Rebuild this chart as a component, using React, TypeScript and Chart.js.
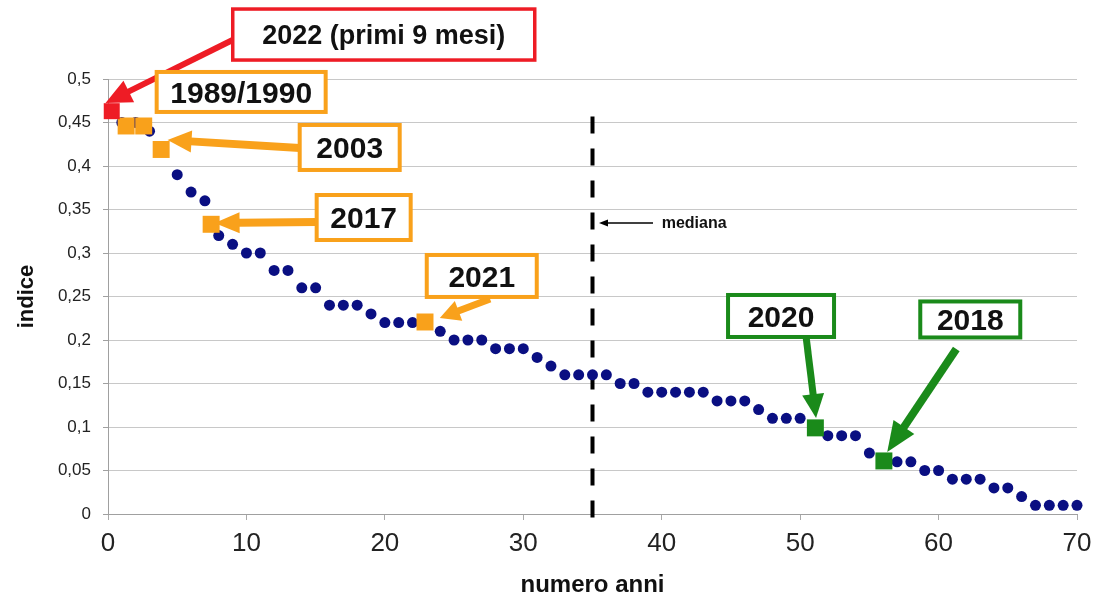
import React, { useEffect, useRef } from 'react';
import { Chart, registerables } from 'chart.js';

Chart.register(...registerables);

// ---- data ----
const anni = [
  1, 2, 3, 4, 5, 6, 7, 8, 9, 10, 11, 12, 13, 14, 15, 16, 17, 18, 19, 20,
  21, 22, 23, 24, 25, 26, 27, 28, 29, 30, 31, 32, 33, 34, 35, 36, 37, 38, 39, 40,
  41, 42, 43, 44, 45, 46, 47, 48, 49, 50, 51, 52, 53, 54, 55, 56, 57, 58, 59, 60,
  61, 62, 63, 64, 65, 66, 67, 68, 69, 70,
];
const indice = [
  0.45, 0.45, 0.44, 0.42, 0.39, 0.37, 0.36, 0.32, 0.31, 0.3,
  0.3, 0.28, 0.28, 0.26, 0.26, 0.24, 0.24, 0.24, 0.23, 0.22,
  0.22, 0.22, 0.22, 0.21, 0.2, 0.2, 0.2, 0.19, 0.19, 0.19,
  0.18, 0.17, 0.16, 0.16, 0.16, 0.16, 0.15, 0.15, 0.14, 0.14,
  0.14, 0.14, 0.14, 0.13, 0.13, 0.13, 0.12, 0.11, 0.11, 0.11,
  0.1, 0.09, 0.09, 0.09, 0.07, 0.06, 0.06, 0.06, 0.05, 0.05,
  0.04, 0.04, 0.04, 0.03, 0.03, 0.02, 0.01, 0.01, 0.01, 0.01,
];
// highlighted years (squares)
const rossoX = [0.27];
const rossoY = [0.463];
const aranX = [1.31, 2.58, 3.84, 7.45, 22.9];
const aranY = [0.446, 0.446, 0.419, 0.333, 0.2207];
const verdeX = [51.1, 56.05];
const verdeY = [0.099, 0.061];
// median line
const medianaX = [35, 35];
const medianaY = [-0.004, 0.458];

const xTickLabels = ['0', '10', '20', '30', '40', '50', '60', '70'];
const yTickLabels = ['0', '0,05', '0,1', '0,15', '0,2', '0,25', '0,3', '0,35', '0,4', '0,45', '0,5'];

const etichette = ['2022 (primi 9 mesi)', '1989/1990', '2003', '2017', '2021', '2020', '2018'];

// ---- styles ----
const RED = '#ee1c25';
const ORANGE = '#f9a11b';
const GREEN = '#1a8a1a';
const NAVY = '#0a0f82';
const FONT = "'Liberation Sans', Arial, Helvetica, sans-serif";

// annotation layout (box centre / arrow tail & tip in data units, sizes in px)
const ANNOT = [
  { color: RED, cx: 19.92, cy: 0.5511, w: 302, h: 51, fs: 27, bw: 3.5, tail: [9.0, 0.5448], tip: [-0.18, 0.4724], shaft: 6, hl: 26, hw: 24 },
  { color: ORANGE, cx: 9.62, cy: 0.4851, w: 169, h: 40, fs: 30, bw: 4, tail: null, tip: null, shaft: 0, hl: 0, hw: 0 },
  { color: ORANGE, cx: 17.46, cy: 0.4213, w: 100, h: 45, fs: 30, bw: 4, tail: [13.85, 0.4207], tip: [4.3, 0.4299], shaft: 8, hl: 24, hw: 22 },
  { color: ORANGE, cx: 18.47, cy: 0.3408, w: 94, h: 45, fs: 30, bw: 4, tail: [15.08, 0.3356], tip: [7.7, 0.3345], shaft: 8, hl: 25, hw: 21 },
  { color: ORANGE, cx: 27.0, cy: 0.2736, w: 110, h: 42, fs: 30, bw: 4, tail: [27.6, 0.2471], tip: [23.97, 0.2253], shaft: 7, hl: 20, hw: 21 },
  { color: GREEN, cx: 48.62, cy: 0.2276, w: 106, h: 42, fs: 30, bw: 4, tail: [50.43, 0.2034], tip: [51.15, 0.1103], shaft: 7, hl: 24, hw: 22 },
  { color: GREEN, cx: 62.29, cy: 0.2236, w: 100, h: 36, fs: 30, bw: 4, tail: [61.28, 0.1897], tip: [56.29, 0.0713], shaft: 8, hl: 30, hw: 25 },
];
const MEDIANA_ARROW = { tail: [39.37, 0.3345], tip: [35.47, 0.3345], textX: 40.0 };

function drawArrow(ctx: CanvasRenderingContext2D, x1: number, y1: number, x2: number, y2: number,
  shaft: number, hl: number, hw: number, color: string) {
  const dx = x2 - x1, dy = y2 - y1;
  const len = Math.hypot(dx, dy);
  const ux = dx / len, uy = dy / len;
  const bx = x2 - ux * hl, by = y2 - uy * hl;
  ctx.save();
  ctx.strokeStyle = color;
  ctx.fillStyle = color;
  ctx.lineWidth = shaft;
  ctx.lineCap = 'butt';
  ctx.beginPath();
  ctx.moveTo(x1, y1);
  ctx.lineTo(bx + ux * 1, by + uy * 1);
  ctx.stroke();
  ctx.beginPath();
  ctx.moveTo(x2, y2);
  ctx.lineTo(bx - uy * hw / 2, by + ux * hw / 2);
  ctx.lineTo(bx + uy * hw / 2, by - ux * hw / 2);
  ctx.closePath();
  ctx.fill();
  ctx.restore();
}

const annotationPlugin = {
  id: 'annotazioni',
  afterDatasetsDraw(chart: any) {
    const { ctx } = chart;
    const xs = chart.scales.x, ys = chart.scales.y;
    const px = (v: number) => xs.getPixelForValue(v);
    const py = (v: number) => ys.getPixelForValue(v);
    ctx.save();
    // mediana
    const m = MEDIANA_ARROW;
    drawArrow(ctx, px(m.tail[0]), py(m.tail[1]), px(m.tip[0]), py(m.tip[1]), 1.3, 9, 7, '#000');
    ctx.fillStyle = '#111';
    ctx.font = `bold 16px ${FONT}`;
    ctx.textAlign = 'left';
    ctx.textBaseline = 'middle';
    ctx.fillText('mediana', px(m.textX), py(m.tail[1]) + 1);

    ANNOT.forEach((a) => {
      if (a.tail && a.tip) {
        drawArrow(ctx, px(a.tail[0]), py(a.tail[1]), px(a.tip[0]), py(a.tip[1]), a.shaft, a.hl, a.hw, a.color);
      }
    });
    ANNOT.forEach((a, i) => {
      const cx = px(a.cx), cy = py(a.cy);
      const l = cx - a.w / 2, t = cy - a.h / 2;
      ctx.fillStyle = '#fff';
      ctx.fillRect(l, t, a.w, a.h);
      ctx.strokeStyle = a.color;
      ctx.lineWidth = a.bw;
      ctx.strokeRect(l, t, a.w, a.h);
      ctx.fillStyle = '#111';
      ctx.font = `bold ${a.fs}px ${FONT}`;
      ctx.textAlign = 'center';
      ctx.textBaseline = 'alphabetic';
      ctx.fillText(etichette[i], cx, cy + a.fs * 0.716 / 2);
    });
    ctx.restore();
  },
};

export default function App() {
  const ref = useRef<HTMLCanvasElement | null>(null);
  useEffect(() => {
    if (!ref.current) return;
    const chart = new Chart(ref.current, {
      type: 'scatter',
      data: {
        datasets: [
          {
            label: '2022',
            data: rossoX.map((x, i) => ({ x, y: rossoY[i] })),
            pointStyle: 'rect',
            pointRadius: 11.3,
            backgroundColor: RED,
            borderWidth: 0,
            clip: false,
          } as any,
          {
            label: 'arancio',
            data: aranX.map((x, i) => ({ x, y: aranY[i] })),
            pointStyle: 'rect',
            pointRadius: 12,
            backgroundColor: ORANGE,
            borderWidth: 0,
            clip: false,
          } as any,
          {
            label: 'verde',
            data: verdeX.map((x, i) => ({ x, y: verdeY[i] })),
            pointStyle: 'rect',
            pointRadius: 12,
            backgroundColor: GREEN,
            borderWidth: 0,
            clip: false,
          } as any,
          {
            label: 'indice',
            data: anni.map((x, i) => ({ x, y: indice[i] })),
            pointRadius: 5.5,
            backgroundColor: NAVY,
            borderWidth: 0,
            clip: false,
          } as any,
          {
            label: 'mediana',
            data: medianaX.map((x, i) => ({ x, y: medianaY[i] })),
            showLine: true,
            pointRadius: 0,
            borderColor: '#000',
            borderWidth: 4,
            borderDash: [17, 15],
            clip: false,
          } as any,
        ],
      },
      options: {
        animation: false,
        responsive: false,
        events: [],
        layout: { padding: { left: 0, right: 17, top: 79, bottom: 0 } },
        plugins: { legend: { display: false }, tooltip: { enabled: false } },
        scales: {
          x: {
            type: 'linear',
            min: 0,
            max: 70,
            afterFit: (s: any) => { s.height = 89; s.paddingRight = 0; s.paddingLeft = 0; },
            ticks: {
              stepSize: 10,
              color: '#222',
              padding: 8,
              font: { family: FONT, size: 26 },
              callback: (v: any) => xTickLabels[Math.round(Number(v) / 10)] ?? String(v),
            },
            grid: { drawOnChartArea: false, drawTicks: true, tickLength: 6, color: '#aaa' },
            border: { display: true, color: '#a0a0a0', width: 1 },
            title: {
              display: true,
              text: 'numero anni',
              color: '#111',
              font: { family: FONT, size: 24, weight: 'bold' },
              padding: { top: 0, bottom: 3 },
            },
          },
          y: {
            type: 'linear',
            min: 0,
            max: 0.5,
            afterFit: (s: any) => { s.width = 108; },
            ticks: {
              stepSize: 0.05,
              color: '#222',
              padding: 12,
              font: { family: FONT, size: 17 },
              callback: (v: any) => yTickLabels[Math.round(Number(v) * 20)] ?? String(v),
            },
            grid: { color: '#c8c8c8', lineWidth: 1, tickLength: 5, tickColor: '#a0a0a0' },
            border: { display: true, color: '#a0a0a0', width: 1 },
            title: {
              display: true,
              text: 'indice',
              color: '#111',
              font: { family: FONT, size: 22, weight: 'bold' },
              padding: { top: 14, bottom: 0 },
            },
          },
        },
      },
      plugins: [annotationPlugin],
    });
    return () => chart.destroy();
  }, []);
  return (
    <div style={{ position: 'fixed', left: 0, top: 0, width: 1094, height: 603, background: '#fff' }}>
      <canvas ref={ref} width={1094} height={603} style={{ display: 'block' }} />
    </div>
  );
}
